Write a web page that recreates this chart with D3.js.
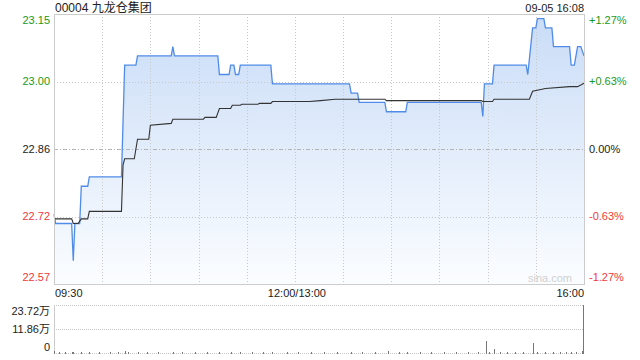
<!DOCTYPE html>
<html>
<head>
<meta charset="utf-8">
<title>00004 九龙仓集团</title>
<script src="https://cdn.jsdelivr.net/npm/d3@7"></script>
<style>
  body { margin: 0; background: #fff; }
  text { font-family: Arial, "Liberation Sans", "Noto Sans CJK SC", sans-serif; }
</style>
</head>
<body>
<div id="chart"></div>
<script>
var prevClose = 22.86;
var priceRange = 0.29;

// blue price line (change points)
var priceTimes = ["09:30","09:31","09:41","09:42","09:43","09:46","09:47","09:51","09:52","10:12",
  "10:14","10:21","10:22","10:43","10:44","10:45","11:12","11:13","11:19","11:20",
  "11:22","11:23","11:25","11:26","11:45","11:46","13:34","13:35","13:39","13:40",
  "13:56","13:57","14:09","14:10","14:56","14:57","14:58","15:03","15:04","15:24",
  "15:25","15:28","15:30","15:31","15:35","15:36","15:40","15:41","15:51","15:52",
  "15:54","15:56","15:58","16:00"];
var prices = [22.72,22.70,22.70,22.62,22.70,22.70,22.78,22.78,22.80,22.80,
  23.04,23.04,23.06,23.06,23.08,23.06,23.06,23.02,23.02,23.04,
  23.04,23.02,23.02,23.04,23.04,23.00,23.00,22.98,22.98,22.96,
  22.96,22.94,22.94,22.96,22.96,22.93,23.00,23.00,23.04,23.04,
  23.02,23.12,23.12,23.14,23.14,23.12,23.12,23.08,23.08,23.04,
  23.04,23.08,23.08,23.06];

// black average price line
var avgTimes = ["09:30","09:41","09:42","09:45","09:47","09:51","09:52","10:12","10:13","10:14",
  "10:20","10:22","10:29","10:30","10:43","10:44","11:03","11:04","11:11","11:13",
  "11:20","11:21","11:26","11:27","11:37","11:38","11:45","11:46","13:09","13:16",
  "13:25","13:56","13:57","14:56","14:57","15:03","15:04","15:26","15:28","15:36",
  "15:51","15:56","16:00"];
var avgPrices = [22.71,22.71,22.70,22.70,22.71,22.71,22.726,22.726,22.826,22.839,
  22.839,22.881,22.881,22.911,22.915,22.924,22.924,22.928,22.928,22.947,
  22.947,22.954,22.954,22.956,22.956,22.958,22.958,22.962,22.962,22.964,
  22.967,22.967,22.964,22.964,22.962,22.962,22.967,22.967,22.984,22.990,
  22.994,22.994,23.001];

// volume, 万股
var volTimes = ["09:30","09:33","09:37","09:41","09:42","09:47","09:52","09:58","10:05","10:10",
  "10:14","10:16","10:22","10:28","10:35","10:44","10:50","10:58","11:05","11:13",
  "11:20","11:26","11:33","11:40","11:46","11:55","13:02","13:10","13:18","13:26",
  "13:35","13:42","13:50","13:58","14:05","14:10","14:18","14:25","14:33","14:40",
  "14:48","14:54","14:59","15:01","15:04","15:08","15:12","15:17","15:22","15:28",
  "15:31","15:36","15:41","15:45","15:49","15:52","15:55","15:59","16:00"];
var volumes = [0.8,0.3,0.2,0.3,0.5,0.4,0.3,0.2,0.3,0.2,
  1.1,0.4,0.5,0.3,0.2,0.3,0.2,0.3,0.2,0.4,
  0.3,0.3,0.2,0.2,0.4,0.2,0.3,0.2,0.3,0.2,
  0.3,0.2,0.3,1.0,0.3,0.4,0.2,0.3,0.2,0.3,
  0.2,0.3,5.9,0.4,2.0,0.3,0.2,0.3,0.2,4.9,
  0.5,0.4,0.4,0.3,0.5,0.4,0.3,1.0,23.72];
var volMax = 23.72;

var xLabels = ["09:30", "12:00/13:00", "16:00"];
var priceTicks = [23.15, 23.00, 22.86, 22.72, 22.57];
var pctTicks = ["+1.27%", "+0.63%", "0.00%", "-0.63%", "-1.27%"];
var volTicks = ["23.72万", "11.86万", "0"];

var width = 640, height = 360;
var plotLeft = 54, plotRight = 584, plotTop = 14, plotBottom = 284;
var vTop = 305, vBottom = 353;

var green = "#1a9a1a", red = "#f03a3a", dark = "#222";

// trading minutes from 09:30, lunch break removed
function tradeMin(s) {
  var p = s.split(":"), t = +p[0] * 60 + +p[1];
  if (t <= 720) return t - 570;
  return Math.min(t - 780 + 150, 330);
}

var x = d3.scaleLinear().domain([0, 330]).range([plotLeft, plotRight]);
var y = d3.scaleLinear().domain([prevClose - priceRange, prevClose + priceRange]).range([plotBottom, plotTop]);
var yv = d3.scaleLinear().domain([0, volMax]).range([vBottom, vTop]);

var svg = d3.select("#chart").append("svg")
  .attr("width", width).attr("height", height);

var defs = svg.append("defs");
var grad = defs.append("linearGradient").attr("id", "fillGrad")
  .attr("gradientUnits", "userSpaceOnUse")
  .attr("x1", 0).attr("y1", plotTop).attr("x2", 0).attr("y2", plotBottom);
grad.append("stop").attr("offset", "0%").attr("stop-color", "#c9dcf7");
grad.append("stop").attr("offset", "100%").attr("stop-color", "#fbfdff");

// area + lines
var pts = priceTimes.map(function(t, i) { return [tradeMin(t), prices[i]]; });
var avgPts = avgTimes.map(function(t, i) { return [tradeMin(t), avgPrices[i]]; });

svg.append("path")
  .datum(pts)
  .attr("fill", "url(#fillGrad)")
  .attr("d", d3.area().x(function(d) { return x(d[0]); }).y0(plotBottom).y1(function(d) { return y(d[1]); }));

// grid
var g = svg.append("g").attr("shape-rendering", "crispEdges");
d3.range(30, 330, 30).forEach(function(m) {
  g.append("line").attr("x1", Math.round(x(m)) + 0.5).attr("x2", Math.round(x(m)) + 0.5)
    .attr("y1", plotTop).attr("y2", plotBottom)
    .attr("stroke", "#c8c8c8").attr("stroke-dasharray", "1,2");
});
[prevClose + priceRange / 2, prevClose - priceRange / 2].forEach(function(v) {
  g.append("line").attr("x1", plotLeft).attr("x2", plotRight)
    .attr("y1", Math.round(y(v)) + 0.5).attr("y2", Math.round(y(v)) + 0.5)
    .attr("stroke", "#c8c8c8").attr("stroke-dasharray", "1,2");
});
g.append("line").attr("x1", plotLeft).attr("x2", plotRight)
  .attr("y1", Math.round(y(prevClose)) + 0.5).attr("y2", Math.round(y(prevClose)) + 0.5)
  .attr("stroke", "#b4b4b4").attr("stroke-dasharray", "4,2,1,2");

svg.append("path")
  .datum(pts)
  .attr("fill", "none").attr("stroke", "#4f8be8").attr("stroke-width", 1.3)
  .attr("d", d3.line().x(function(d) { return x(d[0]); }).y(function(d) { return y(d[1]); }));

svg.append("path")
  .datum(avgPts)
  .attr("fill", "none").attr("stroke", "#333").attr("stroke-width", 1.1)
  .attr("d", d3.line().x(function(d) { return x(d[0]); }).y(function(d) { return y(d[1]); }));

// frame
svg.append("rect")
  .attr("x", plotLeft + 0.5).attr("y", plotTop + 0.5)
  .attr("width", plotRight - plotLeft).attr("height", plotBottom - plotTop)
  .attr("fill", "none").attr("stroke", "#cccccc").attr("shape-rendering", "crispEdges");

// price labels
priceTicks.forEach(function(v, i) {
  var level = prevClose + priceRange * (1 - i / 2);
  var py = Math.max(plotTop + 6, Math.min(plotBottom - 7, y(level)));
  var col = i < 2 ? green : (i == 2 ? dark : red);
  svg.append("text").attr("x", 50).attr("y", py).attr("dy", "0.35em")
    .attr("text-anchor", "end").attr("font-size", 11).attr("fill", col)
    .text(v.toFixed(2));
  svg.append("text").attr("x", 589).attr("y", py).attr("dy", "0.35em")
    .attr("text-anchor", "start").attr("font-size", 11).attr("fill", col)
    .text(pctTicks[i]);
});

// titles
svg.append("text").attr("x", 55).attr("y", 12).attr("font-size", 12).attr("fill", dark)
  .text("00004 九龙仓集团");
svg.append("text").attr("x", plotRight).attr("y", 12).attr("font-size", 11).attr("fill", dark)
  .attr("text-anchor", "end").text("09-05 16:08");

svg.append("text").attr("x", 572).attr("y", 282).attr("font-size", 11).attr("fill", "#d0d0d0")
  .attr("text-anchor", "end").text("sina.com");

// x labels
svg.append("text").attr("x", plotLeft + 1).attr("y", 297).attr("font-size", 11).attr("fill", dark)
  .text(xLabels[0]);
svg.append("text").attr("x", x(150) + 2).attr("y", 297).attr("font-size", 11).attr("fill", dark)
  .attr("text-anchor", "middle").text(xLabels[1]);
svg.append("text").attr("x", plotRight).attr("y", 297).attr("font-size", 11).attr("fill", dark)
  .attr("text-anchor", "end").text(xLabels[2]);

// volume panel
var vg = svg.append("g").attr("shape-rendering", "crispEdges");
[vTop, (vTop + vBottom) / 2, vBottom].forEach(function(py) {
  vg.append("line").attr("x1", plotLeft).attr("x2", plotRight)
    .attr("y1", Math.round(py) + 0.5).attr("y2", Math.round(py) + 0.5)
    .attr("stroke", "#c8c8c8").attr("stroke-dasharray", "1,1");
});
vg.append("line").attr("x1", plotLeft + 0.5).attr("x2", plotLeft + 0.5)
  .attr("y1", vTop).attr("y2", vBottom + 1).attr("stroke", "#cccccc");

vg.selectAll("rect.vol")
  .data(volTimes)
  .enter().append("rect")
    .attr("class", "vol")
    .attr("x", function(d) { return Math.min(Math.round(x(tradeMin(d))), plotRight - 1); })
    .attr("width", 1)
    .attr("y", function(d, i) { return Math.min(Math.round(yv(volumes[i])), vBottom - 1); })
    .attr("height", function(d, i) { return vBottom + 1 - Math.min(Math.round(yv(volumes[i])), vBottom - 1); })
    .attr("fill", "#777");

var vLevels = [vTop, (vTop + vBottom) / 2, vBottom];
volTicks.forEach(function(t, i) {
  var py = i == 2 ? vBottom - 6 : vLevels[i] + (i == 0 ? 6 : 0);
  svg.append("text").attr("x", 50).attr("y", py).attr("dy", "0.35em")
    .attr("text-anchor", "end").attr("font-size", 11).attr("fill", dark).text(t);
});
</script>
</body>
</html>
